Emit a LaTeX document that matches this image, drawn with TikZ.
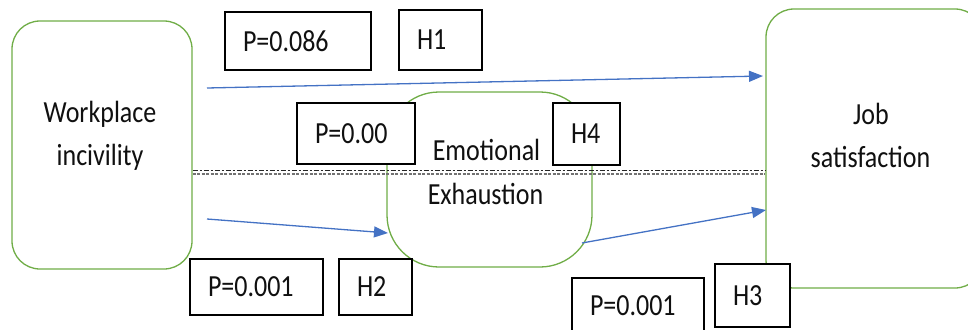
\documentclass[tikz,border=0pt]{standalone}
\usepackage{fontspec}
\usepackage{graphicx}
\setmainfont{Carlito}
\usetikzlibrary{arrows.meta}
\definecolor{offgreen}{HTML}{70AD47}
\definecolor{offblue}{HTML}{4472C4}
\definecolor{txt}{HTML}{101010}
\newcommand\vsc[1]{\scalebox{1}[1.18]{#1}}
\begin{document}
\begin{tikzpicture}[x=1pt,y=-1pt,
  bigbox/.style={draw=offgreen, line width=1.3pt, rounded corners=28pt, fill=white, inner sep=0pt},
  eebox/.style={draw=offgreen, line width=1.3pt, rounded corners=52pt, fill=white, inner sep=0pt},
  tbox/.style={draw=black, line width=1.6pt, fill=white, inner xsep=18pt, inner ysep=0pt, align=left,
    text=txt, font=\fontsize{26}{30}\selectfont},
  lbl/.style={anchor=base, inner sep=0pt, text=txt, font=\fontsize{26}{30}\selectfont},
  arr/.style={draw=offblue, line width=1.3pt, -{Triangle[length=14pt,width=11pt]}},
  dashA/.style={draw=black!85, line width=1.8pt, dash pattern=on 5pt off 2pt on 2pt off 2pt},
  dashB/.style={draw=black!55, line width=1.8pt, dash pattern=on 3pt off 1.5pt}
]
\useasboundingbox (0,0) rectangle (968,329);
% main boxes
\node[bigbox, minimum width=180pt, minimum height=248pt] (wi) at (102,145) {};
\node[bigbox, minimum width=217pt, minimum height=279pt] (js) at (874.5,148.5) {};
\node[eebox, minimum width=205pt, minimum height=175pt] (ee) at (489.5,179.5) {};
% labels in main boxes
\node[lbl] (wi1) at (100,122) {\vsc{Workplace}};
\node[lbl] (wi2) at (100,165) {\vsc{incivility}};
\node[lbl] (js1) at (871,124) {\vsc{Job}};
\node[lbl] (js2) at (870.5,167) {\vsc{satisfaction}};
\node[lbl] (ee1) at (486.5,160) {\vsc{Emotional}};
\node[lbl] (ee2) at (485.5,204) {\vsc{Exhaustion}};
% dashed separator
\draw[dashA] (wi.east |- 0,170.5) -- (js.west |- 0,170.5);
\draw[dashB] (wi.east |- 0,173.8) -- (js.west |- 0,173.8);
% arrows
\coordinate (a1s) at (207,88);
\coordinate (a1e) at (763,76);
\coordinate (a2s) at (207,219);
\coordinate (a2e) at (388,233);
\coordinate (a3s) at (582,243);
\coordinate (a3e) at (766,210);
\draw[arr] (a1s) -- (a1e);
\draw[arr] (a2s) -- (a2e);
\draw[arr] (a3s) -- (a3e);
% label boxes
\node[tbox, minimum width=146pt, minimum height=58pt, text width=110pt] (p1) at (298,41) {\vsc{P=0.086}};
\node[tbox, minimum width=83pt, minimum height=60pt, text width=47pt] (h1) at (440.5,40) {\vsc{H1}};
\node[tbox, minimum width=118pt, minimum height=61pt, text width=82pt] (p4) at (356,133.5) {\vsc{P=0.00}};
\node[tbox, minimum width=67pt, minimum height=62pt, text width=31pt] (h4) at (586.5,134) {\vsc{H4}};
\node[tbox, minimum width=133pt, minimum height=56pt, text width=97pt] (p2) at (256.5,287) {\vsc{P=0.001}};
\node[tbox, minimum width=73pt, minimum height=56pt, text width=37pt] (h2) at (375.5,287) {\vsc{H2}};
\node[tbox, minimum width=132pt, minimum height=56pt, text width=96pt] (p3) at (638,306) {\vsc{P=0.001}};
\node[tbox, minimum width=75pt, minimum height=63pt, text width=39pt] (h3) at (752.5,295.5) {\vsc{H3}};
\end{tikzpicture}
\end{document}
